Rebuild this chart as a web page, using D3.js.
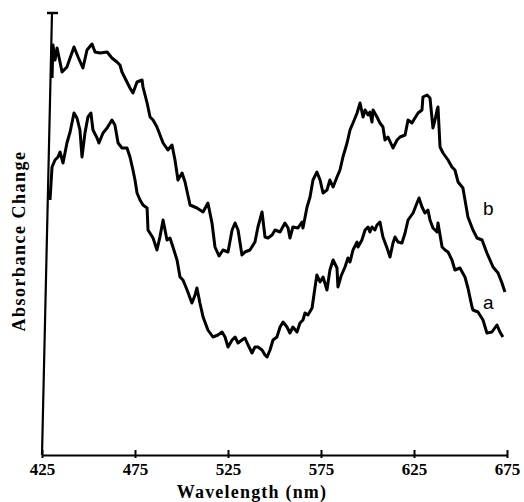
<!DOCTYPE html>
<html>
<head>
<meta charset="utf-8">
<script src="https://cdn.jsdelivr.net/npm/d3@7"></script>
<style>
  body { margin: 0; background: #fff; }
  svg { display: block; }
</style>
</head>
<body>
<div id="chart"></div>
<script>
// spectrum b (upper trace): wavelength (nm), absorbance change (arbitrary units)
const wlB = [430.4, 430.9, 432.0, 433.1, 435.8, 438.4, 440.1, 442.2, 444.4, 447.0, 449.2, 451.9, 453.5, 456.2, 460.0,
  462.6, 465.3, 466.9, 468.0, 469.6, 472.3, 473.9, 476.1, 478.8, 479.3, 481.5, 483.1, 484.7, 486.8, 490.1, 492.7,
  494.9, 496.5, 498.1, 500.3, 501.9, 504.6, 508.3, 511.6, 514.2, 516.4, 518.0, 520.2, 522.3, 525.0, 527.2, 528.8,
  530.4, 532.5, 534.1, 536.8, 539.5, 541.1, 543.3, 544.9, 546.5, 548.7, 550.3, 553.0, 555.6, 557.3, 558.3, 559.9,
  562.6, 564.8, 565.3, 567.5, 569.1, 570.7, 572.8, 574.5, 576.1, 578.2, 579.8, 581.5, 583.6, 585.2, 586.8, 589.0,
  590.6, 592.2, 594.4, 596.0, 597.6, 598.7, 600.3, 601.3, 602.4, 603.0, 605.1, 606.7, 608.3, 609.4, 611.0, 613.7,
  615.9, 617.5, 620.2, 621.8, 623.9, 625.5, 627.2, 629.3, 629.8, 632.0, 633.6, 635.2, 636.3, 637.4, 637.9, 639.0,
  640.6, 643.3, 645.4, 647.0, 648.7, 651.3, 654.0, 656.7, 658.9, 661.6, 664.2, 667.5, 670.2, 672.3, 673.9];
const absB = [377, 410, 395, 407, 383, 388, 397, 408, 398, 387, 405, 411, 403, 402, 403,
  397, 393, 390, 383, 377, 367, 362, 373, 375, 368, 352, 338, 335, 328, 312, 305,
  310, 295, 275, 282, 273, 250, 247, 243, 252, 232, 208, 199, 205, 203, 225, 232,
  225, 200, 203, 205, 213, 228, 243, 218, 217, 220, 225, 223, 232, 227, 217, 228,
  227, 233, 227, 248, 258, 275, 283, 275, 262, 265, 275, 268, 278, 285, 298, 312,
  325, 332, 342, 352, 338, 345, 340, 343, 333, 345, 338, 332, 328, 315, 318, 307,
  315, 318, 320, 335, 332, 337, 342, 345, 358, 360, 357, 327, 335, 345, 348, 308,
  302, 295, 288, 285, 273, 267, 238, 225, 217, 215, 202, 188, 182, 172, 163];

// spectrum a (lower trace)
const wlA = [429.3, 430.4, 432.0, 433.6, 434.7, 436.3, 438.4, 440.1, 442.2, 443.8, 445.4, 446.5, 448.1, 449.7, 451.3,
  452.4, 454.6, 455.6, 457.8, 460.0, 462.6, 464.2, 465.9, 468.0, 470.7, 472.3, 473.9, 475.0, 476.1, 477.7, 479.3,
  481.5, 482.0, 484.7, 486.8, 488.4, 490.1, 492.2, 493.8, 495.4, 497.6, 499.2, 500.8, 503.0, 505.6, 507.3, 508.3,
  509.9, 511.6, 514.2, 516.9, 519.6, 521.8, 523.4, 525.0, 527.2, 528.8, 530.4, 532.5, 534.1, 535.8, 537.9, 539.5,
  541.1, 543.3, 544.9, 546.0, 547.6, 549.2, 551.3, 553.0, 554.6, 556.7, 558.3, 559.9, 562.1, 563.7, 565.3, 566.4,
  568.0, 570.2, 571.8, 572.8, 574.5, 576.1, 578.2, 579.8, 581.5, 583.6, 584.1, 585.8, 587.9, 589.5, 590.6, 592.2,
  594.4, 594.9, 597.0, 598.7, 600.3, 601.3, 602.4, 604.0, 605.1, 606.7, 608.3, 610.5, 612.1, 613.7, 614.8, 616.4,
  618.5, 620.2, 621.8, 624.5, 626.6, 627.7, 629.3, 630.9, 632.5, 633.6, 635.2, 637.4, 637.9, 640.1, 641.7, 643.3,
  645.4, 647.0, 649.7, 652.4, 654.0, 656.2, 656.7, 659.4, 662.1, 664.2, 666.9, 669.6, 671.2, 672.8];
const absA = [255, 288, 295, 298, 303, 292, 312, 323, 342, 337, 325, 298, 322, 338, 342,
  325, 317, 312, 322, 327, 335, 330, 312, 307, 307, 298, 285, 275, 262, 255, 250,
  247, 225, 217, 205, 218, 235, 215, 217, 208, 195, 178, 175, 165, 152, 160, 167,
  152, 138, 125, 118, 120, 123, 118, 108, 115, 118, 112, 115, 117, 110, 102, 108,
  108, 105, 100, 98, 105, 115, 118, 128, 133, 128, 122, 128, 123, 132, 135, 142,
  140, 147, 168, 180, 173, 178, 165, 185, 195, 187, 168, 179, 188, 197, 193, 205,
  213, 208, 215, 225, 228, 223, 228, 225, 230, 233, 218, 207, 198, 212, 218, 213,
  212, 222, 235, 242, 252, 257, 248, 242, 245, 235, 227, 223, 232, 208, 205, 203,
  195, 185, 187, 178, 167, 148, 145, 143, 135, 122, 123, 130, 123, 118];

const xTicks = [425, 475, 525, 575, 625, 675];
const curveLabels = [
  { name: "b", wl: 665, abs: 240 },
  { name: "a", wl: 665, abs: 146 }
];

const width = 524, height = 502;
const serif = "'Liberation Serif', 'Times New Roman', serif";

const svg = d3.select("#chart").append("svg")
  .attr("width", width)
  .attr("height", height);

const x = d3.scaleLinear().domain([425, 675]).range([42, 507]);
const y = d3.scaleLinear().domain([0, 442]).range([455, 13]);

// x axis
const xAxis = svg.append("g")
  .attr("transform", `translate(0,${y(0)})`)
  .call(d3.axisBottom(x).tickValues(xTicks).tickSize(0).tickPadding(8).tickFormat(d3.format("d")));
xAxis.select(".domain").attr("stroke", "#000").attr("stroke-width", 2.2);
xAxis.selectAll(".tick text")
  .attr("font-family", serif)
  .attr("font-weight", "bold")
  .attr("font-size", 17)
  .attr("fill", "#000");
xAxis.selectAll(".tick").append("line")
  .attr("y1", -5).attr("y2", 3)
  .attr("stroke", "#000").attr("stroke-width", 2);

// y axis (slightly skewed, as on the scan)
const yTopX = x(425) + 10;
svg.append("line")
  .attr("x1", x(425)).attr("y1", y(0))
  .attr("x2", yTopX).attr("y2", y(442))
  .attr("stroke", "#000").attr("stroke-width", 2.2);
svg.append("line")
  .attr("x1", yTopX - 5).attr("x2", yTopX + 6)
  .attr("y1", y(442)).attr("y2", y(442))
  .attr("stroke", "#000").attr("stroke-width", 2.5);

// spectra
const line = d3.line()
  .x(d => x(d[0]))
  .y(d => y(d[1]));

[[wlA, absA], [wlB, absB]].forEach(([wl, ab]) => {
  svg.append("path")
    .datum(d3.zip(wl, ab))
    .attr("d", line)
    .attr("fill", "none")
    .attr("stroke", "#000")
    .attr("stroke-width", 3)
    .attr("stroke-linejoin", "round");
});

// curve labels
svg.selectAll(".clabel")
  .data(curveLabels)
  .join("text")
  .attr("class", "clabel")
  .attr("x", d => x(d.wl))
  .attr("y", d => y(d.abs))
  .attr("text-anchor", "middle")
  .attr("font-family", "'Liberation Sans', Arial, sans-serif")
  .attr("font-size", 19)
  .text(d => d.name);

// axis titles
svg.append("text")
  .attr("x", 252)
  .attr("y", 498)
  .attr("text-anchor", "middle")
  .attr("font-family", serif)
  .attr("font-weight", "bold")
  .attr("font-size", 18)
  .attr("letter-spacing", 1.2)
  .text("Wavelength (nm)");

svg.append("text")
  .attr("transform", "translate(25,241) rotate(-90)")
  .attr("text-anchor", "middle")
  .attr("font-family", serif)
  .attr("font-weight", "bold")
  .attr("font-size", 18)
  .attr("letter-spacing", 1.5)
  .text("Absorbance Change");
</script>
</body>
</html>
